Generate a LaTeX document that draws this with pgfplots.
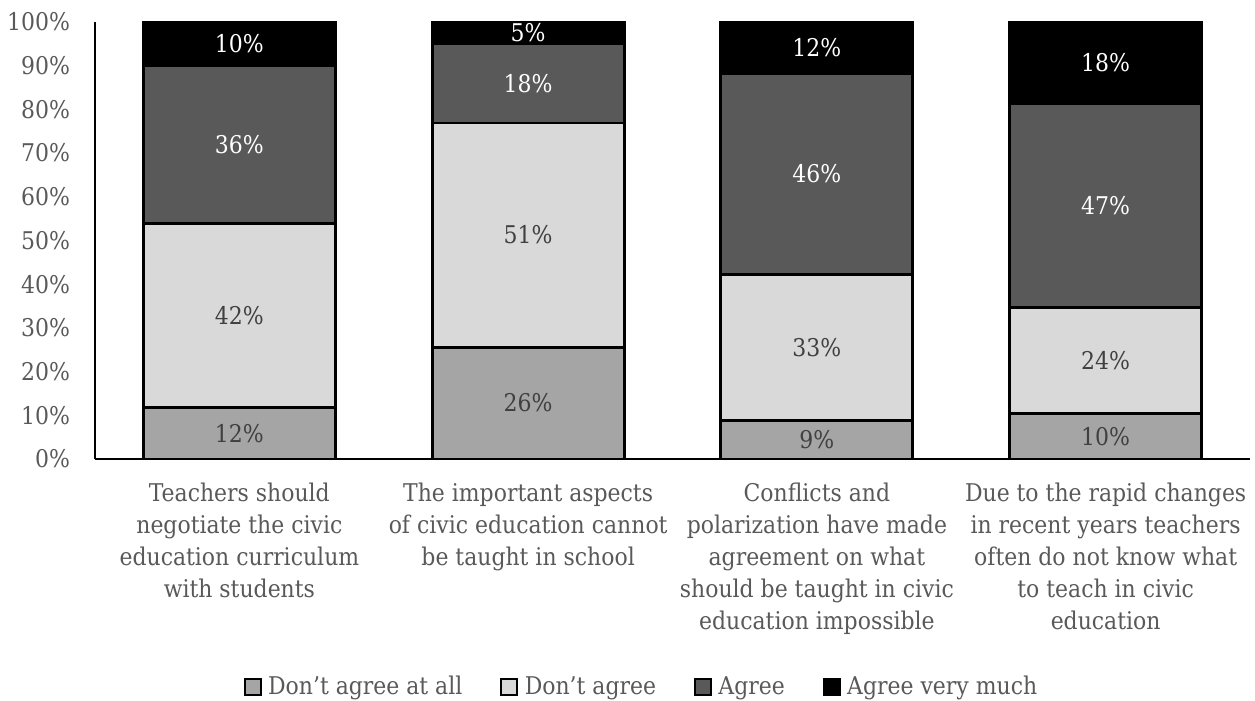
\documentclass[border=0pt]{standalone}
\usepackage{fontspec}
\setmainfont{DejaVu Serif Condensed}
\usepackage{pgfplots}
\pgfplotsset{compat=1.18}
\definecolor{c1}{HTML}{A5A5A5}
\definecolor{c2}{HTML}{D9D9D9}
\definecolor{c3}{HTML}{595959}
\definecolor{c4}{HTML}{000000}
\definecolor{txt}{HTML}{595959}
\definecolor{lbl}{HTML}{404040}
\newcommand{\f}{\fontsize{12.2}{16}\selectfont}
\pgfplotsset{
  mylegend/.style={legend image code/.code={\draw[##1, line width=1pt, draw=black] (0pt,-4pt) rectangle (8pt,4pt);}},
  common/.style={width=577.5pt, height=218.5pt, scale only axis,
    xmin=-0.5, xmax=3.5, ymin=0, ymax=100,
    /pgf/number format/assume math mode=true},
}
\begin{document}
\begin{tikzpicture}
\useasboundingbox (-47.5pt,-121pt) rectangle (580pt,229.5pt);
\begin{axis}[common,
  ybar stacked, bar width=96pt,
  axis lines*=left,
  axis line style={line width=1.4pt, -},
  major tick length=0pt,
  ytick={0,10,...,100},
  yticklabel={\pgfmathprintnumber{\tick}\%},
  yticklabel style={font=\f, text=txt, xshift=-9pt},
  xtick={0,1,2,3},
  xticklabels={{Teachers should\\negotiate the civic\\education curriculum\\with students},
    {The important aspects\\of civic education cannot\\be taught in school},
    {Conflicts and\\polarization have made\\agreement on what\\should be taught in civic\\education impossible},
    {Due to the rapid changes\\in recent years teachers\\often do not know what\\to teach in civic\\education}},
  xticklabel style={font=\f, text=txt, align=center, anchor=north, yshift=-8.5pt},
  legend columns=4,
  legend style={draw=none, at={(0.474,-0.522)}, anchor=center, font=\f, text=txt,
    /tikz/every even column/.append style={column sep=17pt},
    /tikz/every odd column/.append style={column sep=1.2pt},
    inner sep=0pt},
  legend cell align=left,
  every axis plot/.append style={draw=black, line width=1.4pt},
]
\addplot[fill=c1, mylegend] coordinates {(0,11.7) (1,25.6) (2,8.9) (3,10.4)};
\addplot[fill=c2, mylegend] coordinates {(0,42.1) (1,51.3) (2,33.4) (3,24.3)};
\addplot[fill=c3, mylegend] coordinates {(0,36.2) (1,18.1) (2,45.8) (3,46.6)};
\addplot[fill=c4, mylegend] coordinates {(0,10.0) (1,5.0) (2,11.9) (3,18.7)};
\legend{Don’t agree at all, Don’t agree, Agree, Agree very much}
\end{axis}
\begin{axis}[common, hide axis]
\addplot[draw=none, mark=none, nodes near coords={\pgfmathprintnumber[fixed,precision=0]{\pgfplotspointmeta}\%},
  nodes near coords align=center, point meta=explicit,
  every node near coord/.append style={font=\f, text=lbl, anchor=center}]
  table[meta=v] {
  x y v
  0 5.85 12
  0 32.75 42
  1 12.8 26
  1 51.25 51
  2 4.45 9
  2 25.6 33
  3 5.2 10
  3 22.55 24
};
\addplot[draw=none, mark=none, nodes near coords={\pgfmathprintnumber[fixed,precision=0]{\pgfplotspointmeta}\%},
  nodes near coords align=center, point meta=explicit,
  every node near coord/.append style={font=\f, text=white, anchor=center}]
  table[meta=v] {
  x y v
  0 71.9 36
  0 95.0 10
  1 85.95 18
  1 97.5 5
  2 65.2 46
  2 94.05 12
  3 58.0 47
  3 90.65 18
};
\end{axis}
\end{tikzpicture}
\end{document}
